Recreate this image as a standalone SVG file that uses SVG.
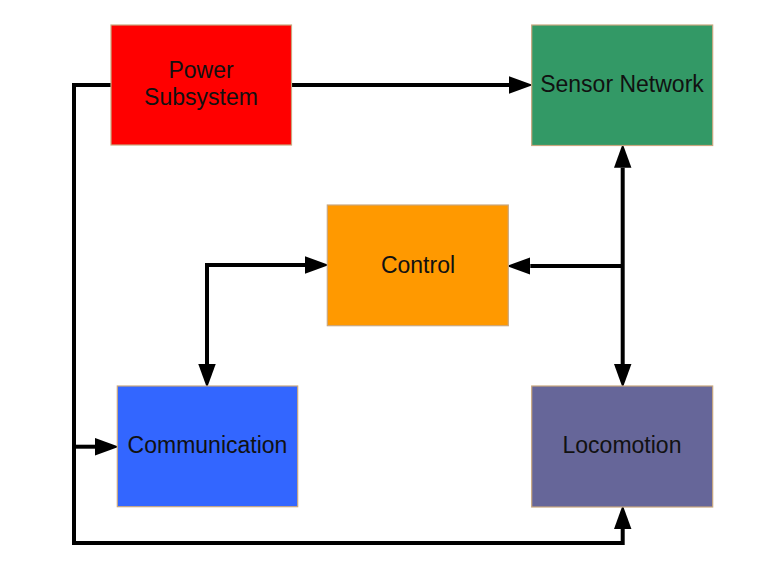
<svg xmlns="http://www.w3.org/2000/svg" width="766" height="567" viewBox="0 0 766 567">
<style>
.box{stroke:#c9a77f;stroke-width:1.2}
.lbl{font-family:"Liberation Sans",Arial,sans-serif;font-size:23px;fill:#111;text-anchor:middle}
.wire{fill:none;stroke:#000;stroke-width:4;stroke-linejoin:miter}
</style>
<defs>
<marker id="ah" markerUnits="userSpaceOnUse" markerWidth="24" markerHeight="18" refX="0" refY="8" orient="auto-start-reverse" viewBox="0 0 22 16">
<path d="M0,0 L22,8 L0,16 z" fill="#000"/>
</marker>
</defs>
<rect width="766" height="567" fill="#fff"/>
<g id="connectors">
<path class="wire" d="M291,85 H509" marker-end="url(#ah)"/>
<path class="wire" d="M111,85 H74 V543 H622.7 V529" marker-end="url(#ah)"/>
<path class="wire" d="M74,446.7 H95" marker-end="url(#ah)"/>
<path class="wire" d="M622.7,167.7 V364" marker-start="url(#ah)" marker-end="url(#ah)"/>
<path class="wire" d="M622.7,266 H530.3" marker-end="url(#ah)"/>
<path class="wire" d="M305,265 H207 V364" marker-start="url(#ah)" marker-end="url(#ah)"/>
</g>
<g id="power">
<rect class="box" x="111" y="25" width="180.5" height="120" fill="#ff0000"/>
<text class="lbl" x="201" y="77.5">Power</text>
<text class="lbl" x="201" y="105">Subsystem</text>
</g>
<g id="sensor">
<rect class="box" x="531.7" y="25" width="181" height="120.5" fill="#339966"/>
<text class="lbl" x="622" y="91.5">Sensor Network</text>
</g>
<g id="control">
<rect class="box" x="327.3" y="205" width="181" height="120.7" fill="#ff9900"/>
<text class="lbl" x="418" y="272.5">Control</text>
</g>
<g id="communication">
<rect class="box" x="117.3" y="386" width="180.4" height="120.7" fill="#3366ff"/>
<text class="lbl" x="207.5" y="453">Communication</text>
</g>
<g id="locomotion">
<rect class="box" x="531.7" y="386" width="181" height="121" fill="#666699"/>
<text class="lbl" x="622" y="453">Locomotion</text>
</g>
</svg>
